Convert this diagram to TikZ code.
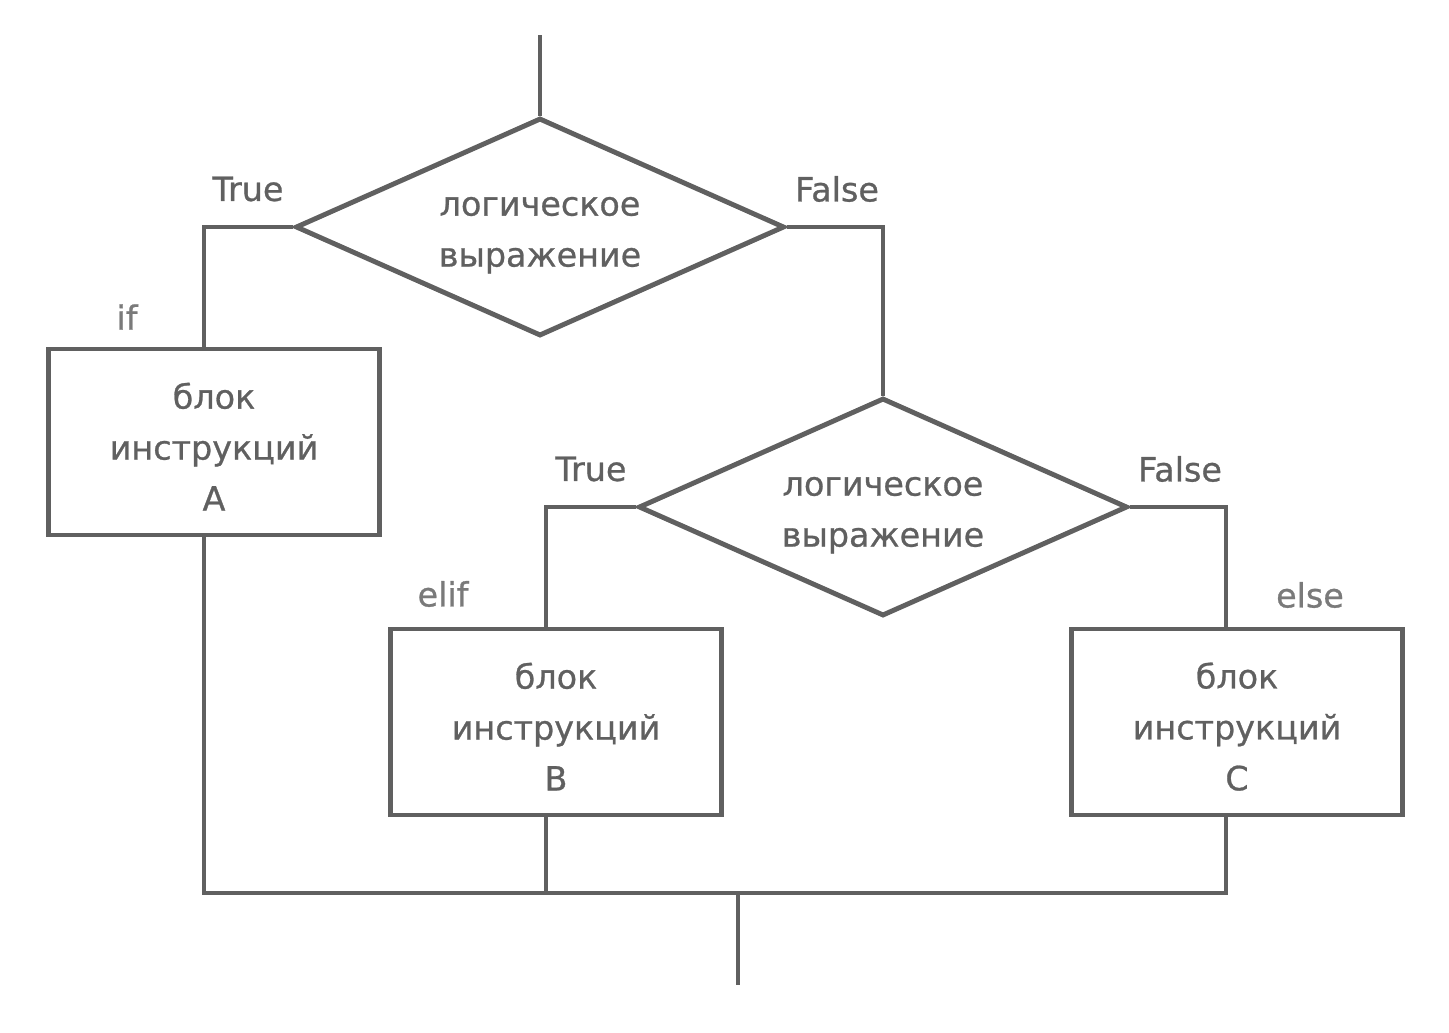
\documentclass[tikz,border=0pt]{standalone}
\usepackage{fontspec}
\setmainfont{DejaVu Sans}[FakeBold=0.8]
\usetikzlibrary{shapes.geometric}
\definecolor{linegray}{HTML}{606060}
\definecolor{labelgray}{HTML}{7A7A7A}
\newcommand{\topstrut}{\rule{0pt}{20pt}}
\begin{document}
\begin{tikzpicture}[x=0.02cm, y=0.02cm]
	\tikzstyle{every node}+=[inner sep=0pt, text=linegray, font=\fontsize{19}{29}\selectfont]
	\tikzstyle{cond}=[draw=linegray, line width=2.8pt, diamond, aspect=2.24, minimum width=9.78cm, minimum height=4.36cm, align=center]
	\tikzstyle{block}=[draw=linegray, line width=2.8pt, rectangle, minimum width=6.62cm, minimum height=3.72cm, align=center]
	\tikzstyle{wire}=[draw=linegray, line width=2.8pt]
	\tikzstyle{branch}=[text=labelgray]
	\useasboundingbox (0,0) rectangle (1449,-1032);
	\coordinate (start) at (540,-35);
	\coordinate (join) at (738,-893);
	\coordinate (finish) at (738,-985);
	\node [cond] (c1) at (540,-227) {\topstrut логическое\\выражение};
	\node [cond] (c2) at (883,-507) {\topstrut логическое\\выражение};
	\node [block] (a) at (214,-442) {\topstrut блок\\инструкций\\A};
	\node [block] (b) at (556,-722) {\topstrut блок\\инструкций\\B};
	\node [block] (c) at (1237,-722) {\topstrut блок\\инструкций\\C};
	\node (t1) at (248,-189) {True};
	\node (f1) at (837,-189) {False};
	\node (t2) at (591,-469) {True};
	\node (f2) at (1180,-469) {False};
	\node [branch] (lif) at (127,-317) {if};
	\node [branch] (lelif) at (443,-594) {elif};
	\node [branch] (lelse) at (1310,-595) {else};
	\draw [wire] (start) -- (c1.north);
	\draw [wire] (c1.west) -| ([xshift=-0.2cm]a.north);
	\draw [wire] (c1.east) -| (c2.north);
	\draw [wire] (c2.west) -| ([xshift=-0.2cm]b.north);
	\draw [wire] (c2.east) -| ([xshift=-0.22cm]c.north);
	\draw [wire] ([xshift=-0.2cm]a.south) |- (join) -| ([xshift=-0.22cm]c.south);
	\draw [wire] ([xshift=-0.2cm]b.south) -- ([xshift=-0.2cm]b.south |- join);
	\draw [wire] (join) -- (finish);
\end{tikzpicture}
\end{document}
